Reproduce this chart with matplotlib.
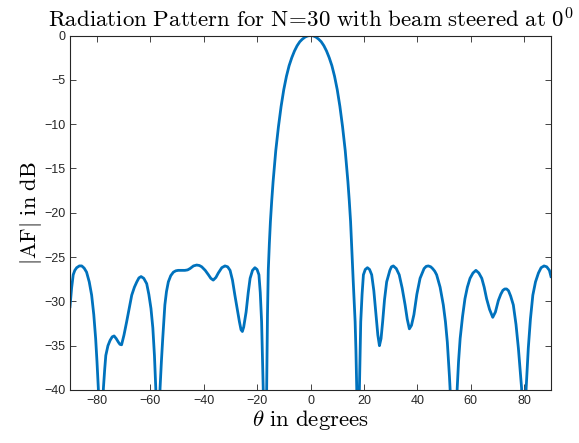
import matplotlib
matplotlib.use("Agg")
import matplotlib.pyplot as plt

# values (dB); the nulls go below -40 and get clipped
theta_deg = [
    -90.0, -89.4, -88.8, -88.2, -87.5, -86.5, -85.6, -84.7, -83.8, -82.8,
    -81.9, -81.1, -80.4, -79.9, -79.4, -78.5, -77.5, -77.0, -76.6, -75.8,
    -75.0, -74.2, -73.5, -72.7, -71.9, -71.3, -70.7, -69.8, -68.8, -67.8,
    -66.9, -65.9, -65.0, -64.2, -63.4, -62.4, -61.3, -60.5, -59.7, -59.0,
    -58.4, -57.9, -57.1, -56.3, -55.8, -55.3, -54.5, -53.9, -53.2, -52.3,
    -51.3, -50.4, -49.5, -48.2, -47.0, -46.0, -45.1, -43.8, -42.6, -41.6,
    -40.7, -39.4, -38.2, -37.3, -36.4, -35.4, -34.5, -33.2, -32.0, -31.0,
    -30.1, -29.2, -28.3, -27.4, -26.6, -26.0, -25.5, -25.0, -24.1, -23.3,
    -22.6, -21.7, -20.8, -20.0, -19.3, -18.8, -18.3, -17.7, -17.05, -16.4,
    -16.25, -16.1, -15.8, -15.4, -15.0, -14.5, -14.0, -13.0, -12.0, -11.0,
    -10.0, -9.0, -8.0, -7.0, -6.0, -5.0, -4.0, -3.0, -2.0, -1.0,
    0.0,
    1.0, 2.0, 3.0, 4.0, 5.0, 6.0, 7.0, 8.0, 9.0, 10.0,
    11.0, 12.0, 13.0, 14.0, 14.5, 15.0, 15.4, 16.0, 16.7, 17.0,
    17.3, 17.65, 18.3, 18.55, 18.8, 19.3, 19.8, 20.5, 21.3, 22.1,
    22.9, 23.7, 24.5, 25.2, 25.8, 26.4, 27.0, 27.7, 28.5, 29.7,
    30.3, 31.0, 32.1, 33.2, 34.3, 35.4, 36.2, 37.0, 37.8, 38.7,
    39.8, 41.0, 42.5, 43.3, 44.1, 45.0, 45.7, 46.5, 47.2, 48.5,
    49.7, 50.5, 51.2, 52.0, 52.6, 53.7, 54.9, 55.4, 56.0, 56.9,
    57.8, 58.7, 59.7, 60.8, 61.9, 63.0, 64.1, 65.0, 65.9, 67.0,
    68.2, 69.2, 70.3, 71.2, 72.0, 72.7, 73.4, 74.1, 74.9, 75.9,
    76.9, 77.8, 78.4, 79.0, 79.8, 80.7, 81.1, 81.5, 82.3, 83.2,
    84.2, 85.3, 86.3, 87.4, 88.4, 89.4, 90.0,
]
af_db = [
    -30.6, -28.5, -27.0, -26.5, -26.2, -26.0, -26.0, -26.25, -26.7, -27.8,
    -29.3, -31.5, -34.2, -36.8, -39.8, -50.0, -39.8, -37.6, -36.1, -35.0,
    -34.4, -34.0, -33.9, -34.2, -34.6, -34.85, -34.9, -33.8, -32.3, -30.7,
    -29.3, -28.4, -27.8, -27.35, -27.2, -27.4, -28.0, -29.2, -30.8, -33.0,
    -36.1, -39.8, -50.0, -39.8, -36.8, -34.2, -30.4, -28.9, -27.8, -27.1,
    -26.7, -26.55, -26.5, -26.5, -26.5, -26.45, -26.3, -26.0, -25.9, -25.95,
    -26.1, -26.5, -27.0, -27.4, -27.6, -27.3, -26.8, -26.2, -26.0, -26.1,
    -26.5, -27.6, -29.3, -30.9, -32.3, -33.2, -33.4, -32.9, -31.2, -29.0,
    -27.4, -26.5, -26.2, -26.4, -27.0, -29.0, -32.3, -39.8, -50.0, -39.8,
    -35.0, -31.5, -26.5, -23.5, -21.0, -18.6, -16.5, -13.0, -10.3, -8.0,
    -6.1, -4.6, -3.4, -2.5, -1.75, -1.15, -0.7, -0.4, -0.17, -0.04,
    0.0,
    -0.04, -0.17, -0.4, -0.7, -1.15, -1.75, -2.5, -3.4, -4.6, -6.1,
    -8.0, -10.3, -13.0, -16.5, -18.6, -21.0, -23.8, -27.8, -32.3, -35.5,
    -39.8, -50.0, -39.8, -35.5, -32.3, -29.2, -27.0, -26.4, -26.2, -26.4,
    -27.0, -28.8, -31.5, -33.8, -35.0, -34.2, -32.3, -29.8, -27.8, -26.5,
    -26.1, -26.0, -26.3, -27.0, -28.5, -30.4, -32.0, -33.1, -32.7, -31.5,
    -29.2, -27.4, -26.3, -26.05, -26.0, -26.1, -26.3, -26.6, -27.0, -28.4,
    -30.4, -32.3, -34.6, -38.5, -42.0, -50.0, -39.8, -36.8, -34.2, -31.7,
    -29.7, -28.4, -27.4, -26.8, -26.5, -26.8, -27.4, -28.4, -29.7, -30.9,
    -31.8, -31.2, -29.9, -29.2, -28.75, -28.6, -28.6, -28.8, -29.4, -30.4,
    -32.6, -35.3, -37.5, -39.8, -50.0, -39.8, -37.5, -35.3, -32.0, -29.3,
    -27.8, -26.8, -26.2, -26.0, -26.1, -26.5, -27.2,
]
x_ticks = [-80, -60, -40, -20, 0, 20, 40, 60, 80]
y_ticks = [0, -5, -10, -15, -20, -25, -30, -35, -40]

plt.rcParams["mathtext.fontset"] = "cm"
plt.rcParams["font.family"] = ["Liberation Sans", "DejaVu Sans"]

fig = plt.figure(figsize=(5.79, 4.43), dpi=100)
ax = fig.add_axes([70 / 579, 53 / 443, 481 / 579, 354.5 / 443])
ax.plot(theta_deg, af_db, color="#0072BD", linewidth=2.0)

ax.set_xlim(-90, 90)
ax.set_ylim(-40, 0)
ax.set_xticks(x_ticks)
ax.set_yticks(y_ticks)
ax.tick_params(direction="in", top=True, right=True, length=4, width=0.6,
               labelsize=9, colors="#262626")
for s in ax.spines.values():
    s.set_color("#262626")
    s.set_linewidth(0.8)

ax.set_title(r"$\mathrm{Radiation\ Pattern\ for\ N\!=\!30\ with\ beam\ steered\ at\ 0^0}$",
             fontsize=16.5, pad=6)
ax.set_xlabel(r"$\theta\ \mathrm{in\ degrees}$", fontsize=16.5, labelpad=1)
ax.set_ylabel(r"$|\mathrm{AF}|\ \mathrm{in\ dB}$", fontsize=16, labelpad=0)

fig.savefig("out.png", dpi=100)
